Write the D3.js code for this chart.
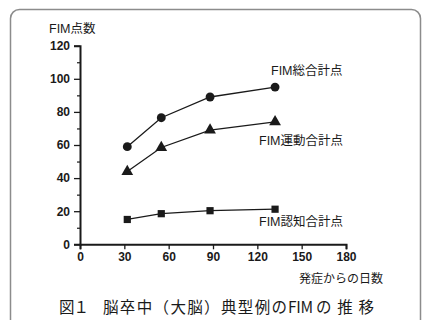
<!DOCTYPE html>
<html><head><meta charset="utf-8">
<script src="https://cdn.jsdelivr.net/npm/d3@7"></script>
<style>
html,body{margin:0;padding:0;background:#fff;}
svg{display:block;}
</style></head>
<body>
<svg id="c" width="422" height="320"></svg>
<script>
const days = [32, 55, 88, 132];
const totalScore = [59, 76.5, 89, 95];
const motorScore = [44, 58.5, 69, 74];
const cognitiveScore = [15, 18.5, 20.3, 21.2];
const seriesNames = ["FIM総合計点", "FIM運動合計点", "FIM認知合計点"];
const xTicks = [0, 30, 60, 90, 120, 150, 180];
const yTicks = [0, 20, 40, 60, 80, 100, 120];
const yMinorTicks = [10, 30, 50, 70, 90, 110];
const yTitle = "FIM点数";
const xTitle = "発症からの日数";
const captionParts = ["図１", "脳卒中（大脳）典型例の", "FIM", "の推移"];

const svg = d3.select("#c");
const ink = "#1a1a1a";
const latin = "Liberation Sans, Arial, sans-serif";
const cjk = "Liberation Sans, 'Noto Sans CJK JP', sans-serif";

// frame
svg.append("rect").attr("x", 10.5).attr("y", 9.5).attr("width", 410).attr("height", 330)
  .attr("rx", 9).attr("fill", "none").attr("stroke", "#8c8c8c").attr("stroke-width", 1.5);

const x = d3.scaleLinear().domain([0, 180]).range([80, 346]);
const y = d3.scaleLinear().domain([0, 120]).range([244.3, 45.7]);

// x axis
const gx = svg.append("g").attr("transform", `translate(0,${y(0)})`)
  .call(d3.axisBottom(x).tickValues(xTicks).tickSize(5).tickPadding(3));
gx.select(".domain").attr("stroke", ink).attr("stroke-width", 2);
gx.selectAll(".tick line").attr("stroke", ink).attr("stroke-width", 1.3);
gx.selectAll(".tick text").attr("fill", ink).attr("font-family", latin)
  .attr("font-size", 12).attr("font-weight", "bold");

// y axis
const gy = svg.append("g").attr("transform", `translate(${x(0)},0)`)
  .call(d3.axisLeft(y).tickValues(yTicks).tickSize(6).tickPadding(4));
gy.select(".domain").attr("stroke", ink).attr("stroke-width", 2);
gy.selectAll(".tick line").attr("stroke", ink).attr("stroke-width", 1.3);
gy.selectAll(".tick text").attr("fill", ink).attr("font-family", latin)
  .attr("font-size", 12).attr("font-weight", "bold");
const gym = svg.append("g").attr("transform", `translate(${x(0)},0)`)
  .call(d3.axisLeft(y).tickValues(yMinorTicks).tickSize(3).tickFormat(""));
gym.select(".domain").remove();
gym.selectAll(".tick line").attr("stroke", ink).attr("stroke-width", 1.2);

// titles
svg.append("text").attr("x", 49).attr("y", 33).attr("fill", ink)
  .attr("font-family", cjk).attr("font-size", 12.5).text(yTitle);
svg.append("text").attr("x", 383).attr("y", 283).attr("text-anchor", "end").attr("fill", ink)
  .attr("font-family", cjk).attr("font-size", 12).text(xTitle);

const series = [
  {vals: totalScore, sym: d3.symbolCircle, size: 62, label: seriesNames[0], lx: 271, ly: 75},
  {vals: motorScore, sym: d3.symbolTriangle, size: 60, label: seriesNames[1], lx: 259, ly: 145},
  {vals: cognitiveScore, sym: d3.symbolSquare, size: 52, label: seriesNames[2], lx: 259, ly: 226}
];
const line = d3.line().x(d => x(d[0])).y(d => y(d[1]));
series.forEach(s => {
  const pts = days.map((d, i) => [d, s.vals[i]]);
  svg.append("path").attr("d", line(pts)).attr("fill", "none")
    .attr("stroke", ink).attr("stroke-width", 1.3);
  svg.selectAll(null).data(pts).enter().append("path")
    .attr("transform", d => `translate(${x(d[0])},${y(d[1])})`)
    .attr("d", d3.symbol().type(s.sym).size(s.size)).attr("fill", ink);
  svg.append("text").attr("x", s.lx).attr("y", s.ly).attr("fill", ink)
    .attr("font-family", cjk).attr("font-size", 12.5).text(s.label);
});

// caption
const capFont = "'Noto Sans CJK JP', sans-serif";
const capPieces = [
  {t: captionParts[0], x: 59, w: 30},
  {t: captionParts[1], x: 103, w: 184},
  {t: captionParts[2], x: 288, w: 25},
  {t: captionParts[3], x: 316, w: 58}
];
capPieces.forEach(p => {
  svg.append("text").attr("x", p.x).attr("y", 313).attr("fill", ink)
    .attr("font-family", capFont).attr("font-size", 15.5)
    .attr("textLength", p.w).attr("lengthAdjust", "spacing").text(p.t);
});
</script>
</body></html>
